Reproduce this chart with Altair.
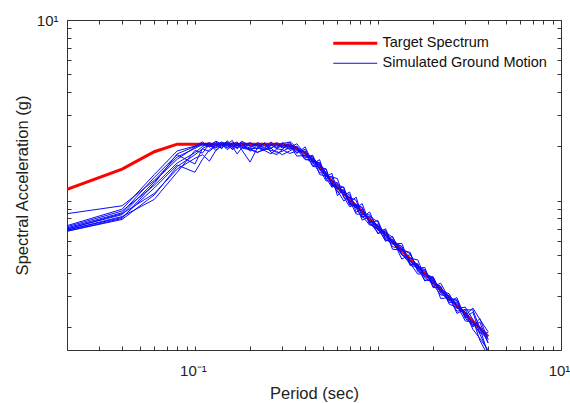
import altair as alt
import pandas as pd

# ---------------- data ----------------
SERIES = ["Target Spectrum", "Simulated Ground Motion"]

TARGET_PERIODS = [0.02, 0.04, 0.06, 0.08, 0.28, 0.30, 0.33, 0.36, 0.40, 0.44, 0.48, 0.52,
                  0.56, 0.60, 0.70, 0.80, 0.90, 1.0, 1.2, 1.5, 2.0, 2.5, 3.0, 3.5, 4.0]
TARGET_SA = [1.16, 1.50, 1.87, 2.06, 2.06, 2.05, 2.02, 1.96, 1.84, 1.69, 1.54, 1.40,
             1.29, 1.19, 1.02, 0.89, 0.79, 0.715, 0.595, 0.477, 0.357, 0.285, 0.238, 0.204, 0.178]

PERIODS = [0.02, 0.04, 0.06, 0.08, 0.10, 0.11, 0.12, 0.13, 0.14, 0.15, 0.16, 0.17,
           0.18, 0.20, 0.22, 0.24, 0.26, 0.28, 0.30, 0.33, 0.36, 0.40, 0.44, 0.48,
           0.52, 0.56, 0.60, 0.65, 0.70, 0.76, 0.82, 0.90, 1.0, 1.1, 1.2, 1.35,
           1.5, 1.65, 1.8, 2.0, 2.2, 2.45, 2.7, 3.0, 3.3, 3.6, 4.0]

SIM_1 = [0.85, 0.94, 1.30, 1.75, 1.95, 2.05, 2.10, 2.02, 2.12, 2.05, 1.98, 2.08,
         2.02, 2.10, 2.00, 2.08, 1.96, 2.04, 1.99, 1.93, 2.01, 1.73, 1.79, 1.48,
         1.51, 1.20, 1.25, 1.07, 1.12, 0.865, 0.905, 0.758, 0.779, 0.618, 0.613, 0.477,
         0.506, 0.424, 0.429, 0.332, 0.332, 0.280, 0.292, 0.226, 0.243, 0.186, 0.187]
SIM_2 = [0.73, 0.90, 1.40, 1.89, 2.01, 2.12, 1.98, 2.08, 1.94, 2.15, 2.04, 1.96,
         2.10, 1.88, 2.06, 1.95, 2.12, 1.98, 2.08, 2.11, 1.83, 1.99, 1.61, 1.69,
         1.32, 1.37, 1.07, 1.155, 0.98, 1.05, 0.818, 0.814, 0.658, 0.702, 0.577, 0.583,
         0.444, 0.450, 0.361, 0.382, 0.312, 0.298, 0.239, 0.252, 0.202, 0.214, 0.164]
SIM_3 = [0.72, 0.88, 1.22, 1.62, 1.85, 2.00, 2.08, 1.90, 2.02, 2.10, 1.92, 2.00,
         2.14, 2.02, 1.94, 2.10, 1.86, 1.80, 1.92, 1.83, 1.89, 1.88, 1.55, 1.54,
         1.50, 1.225, 1.18, 1.19, 0.96, 0.92, 0.966, 0.75, 0.694, 0.689, 0.541, 0.535,
         0.52, 0.407, 0.393, 0.375, 0.289, 0.292, 0.281, 0.231, 0.202, 0.224, 0.171]
SIM_4 = [0.71, 0.86, 1.35, 1.80, 1.60, 1.95, 2.04, 2.12, 1.98, 2.06, 2.16, 1.94,
         2.04, 1.96, 2.10, 2.02, 1.94, 2.06, 1.96, 2.03, 1.77, 1.78, 1.76, 1.40,
         1.37, 1.355, 1.33, 1.045, 1.01, 0.846, 0.844, 0.837, 0.715, 0.598, 0.637, 0.509,
         0.448, 0.446, 0.377, 0.35, 0.338, 0.269, 0.257, 0.243, 0.195, 0.174, 0.150]
SIM_5 = [0.70, 0.85, 1.10, 1.50, 1.72, 1.80, 1.66, 1.90, 2.04, 1.96, 2.06, 2.12,
         1.98, 1.94, 1.86, 1.92, 1.96, 1.84, 1.88, 1.97, 2.07, 1.82, 1.57, 1.60,
         1.34, 1.19, 1.225, 1.19, 0.97, 0.95, 0.783, 0.822, 0.765, 0.611, 0.583, 0.562,
         0.439, 0.433, 0.417, 0.336, 0.351, 0.289, 0.246, 0.250, 0.250, 0.198, 0.142]
SIM_6 = [0.70, 0.84, 1.28, 1.70, 1.98, 2.06, 2.00, 2.14, 2.06, 1.92, 2.02, 2.08,
         1.92, 1.64, 1.98, 1.92, 2.02, 2.10, 2.00, 2.07, 1.93, 1.69, 1.69, 1.62,
         1.36, 1.42, 1.14, 1.00, 1.05, 1.006, 0.827, 0.735, 0.744, 0.65, 0.559, 0.541,
         0.510, 0.420, 0.365, 0.361, 0.335, 0.274, 0.276, 0.233, 0.256, 0.222, 0.189]
SIM_7 = [0.69, 0.82, 1.02, 1.44, 1.90, 1.84, 2.06, 1.98, 2.10, 2.02, 1.94, 2.04,
         2.10, 2.00, 2.04, 1.90, 2.04, 1.96, 2.10, 1.99, 1.85, 1.93, 1.64, 1.43,
         1.43, 1.265, 1.12, 1.12, 1.08, 0.912, 0.809, 0.869, 0.686, 0.676, 0.589, 0.504,
         0.482, 0.472, 0.381, 0.371, 0.319, 0.307, 0.254, 0.259, 0.221, 0.170, 0.139]
SIM_8 = [0.69, 0.81, 1.18, 1.58, 1.44, 1.70, 1.92, 2.04, 1.96, 2.08, 2.00, 1.82,
         1.96, 1.92, 1.85, 1.95, 1.90, 1.88, 1.80, 1.89, 1.99, 1.77, 1.72, 1.51,
         1.29, 1.29, 1.26, 1.056, 0.928, 0.959, 0.922, 0.743, 0.701, 0.605, 0.607, 0.557,
         0.453, 0.394, 0.397, 0.378, 0.309, 0.283, 0.284, 0.224, 0.208, 0.202, 0.164]
SIM_9 = [0.68, 0.80, 1.25, 1.82, 2.00, 2.08, 2.02, 1.96, 2.06, 2.12, 1.98, 2.04,
         1.96, 2.08, 2.02, 1.98, 2.06, 1.94, 2.04, 1.95, 1.91, 1.86, 1.66, 1.59,
         1.40, 1.24, 1.17, 1.11, 1.05, 0.931, 0.879, 0.774, 0.729, 0.644, 0.595, 0.546,
         0.463, 0.437, 0.393, 0.364, 0.319, 0.295, 0.262, 0.243, 0.210, 0.188, 0.174]
SIM_10 = [0.68, 0.79, 1.08, 1.55, 1.80, 1.94, 1.88, 2.02, 2.08, 1.98, 2.10, 2.02,
          2.00, 1.94, 1.96, 1.90, 1.82, 1.94, 1.92, 2.13, 1.97, 1.71, 1.64, 1.63,
          1.43, 1.21, 1.19, 1.144, 0.949, 0.949, 0.914, 0.766, 0.665, 0.67, 0.631, 0.504,
          0.467, 0.416, 0.413, 0.346, 0.302, 0.301, 0.265, 0.217, 0.215, 0.184, 0.146]
SIMS = [SIM_1, SIM_2, SIM_3, SIM_4, SIM_5, SIM_6, SIM_7, SIM_8, SIM_9, SIM_10]

X_TICKS = [0.02, 0.03, 0.04, 0.05, 0.06, 0.07, 0.08, 0.09, 0.1,
           0.2, 0.3, 0.4, 0.5, 0.6, 0.7, 0.8, 0.9, 1,
           2, 3, 4, 5, 6, 7, 8, 9, 10]
Y_TICKS = [0.2, 0.3, 0.4, 0.5, 0.6, 0.7, 0.8, 0.9, 1,
           2, 3, 4, 5, 6, 7, 8, 9, 10]

# ---------------- tables ----------------
target_df = pd.DataFrame({"period": TARGET_PERIODS, "sa": TARGET_SA,
                          "series": SERIES[0], "run": "target"})
sim_rows = []
for k, vals in enumerate(SIMS):
    for p, v in zip(PERIODS, vals):
        sim_rows.append({"period": p, "sa": v, "series": SERIES[1], "run": f"sim{k + 1}"})
sim_df = pd.DataFrame(sim_rows)

FONT = "Liberation Sans"
TICK = "#333333"
TXT = "#222222"

x_scale = alt.Scale(type="log", domain=[0.02, 10], nice=False)
y_scale = alt.Scale(type="log", domain=[0.15, 10], nice=False)

leg = alt.Legend(title=None, orient="none", legendX=281, legendY=16,
                 symbolType="M-4,0H4", symbolSize=121, labelFont=FONT,
                 labelFontSize=14.5, labelColor="#111111", labelOffset=20,
                 labelLimit=400, rowPadding=5, padding=0)

color = alt.Color("series:N", scale=alt.Scale(domain=SERIES, range=["#ff0000", "#0a0aff"]),
                  legend=leg)
swidth = alt.StrokeWidth("series:N", scale=alt.Scale(type="ordinal", domain=SERIES, range=[3, 1]),
                         legend=leg)

x_bottom = alt.Axis(orient="bottom", values=X_TICKS,
                    labelExpr="datum.value == 0.1 ? '10⁻¹' : (datum.value == 10 ? '10¹' : '')",
                    domain=False, grid=False, tickSize=4, offset=-4, tickColor=TICK,
                    labelFont=FONT, labelFontSize=15, labelColor=TXT,
                    labelPadding=13, labelOffset=-2, labelOverlap=False, labelFlush=False,
                    title="Period (sec)", titleFont=FONT, titleFontSize=16.5,
                    titleFontWeight="normal", titleColor=TXT, titlePadding=7)
y_left = alt.Axis(orient="left", values=Y_TICKS,
                  labelExpr="datum.value == 10 ? '10¹' : ''",
                  domain=False, grid=False, tickSize=4, offset=-4, tickColor=TICK,
                  labelFont=FONT, labelFontSize=15, labelColor=TXT,
                  labelPadding=9, labelOverlap=False, labelFlush=False,
                  title="Spectral Acceleration (g)", titleFont=FONT, titleFontSize=16.5,
                  titleFontWeight="normal", titleColor=TXT, titlePadding=6)
x_top = alt.Axis(orient="top", values=X_TICKS, labels=False, domain=False, grid=False,
                 tickSize=4, offset=-4, tickColor=TICK, title=None)
y_right = alt.Axis(orient="right", values=Y_TICKS, labels=False, domain=False, grid=False,
                   tickSize=4, offset=-4, tickColor=TICK, title=None)

target_layer = alt.Chart(target_df).mark_line(clip=True).encode(
    x=alt.X("period:Q", scale=x_scale, axis=x_bottom),
    y=alt.Y("sa:Q", scale=y_scale, axis=y_left),
    color=color,
    strokeWidth=swidth,
)

sim_layer = alt.Chart(sim_df).mark_line(clip=True).encode(
    x=alt.X("period:Q", scale=x_scale, axis=x_top),
    y=alt.Y("sa:Q", scale=y_scale, axis=y_right),
    color=color,
    strokeWidth=swidth,
    detail="run:N",
)

chart = alt.layer(target_layer, sim_layer).resolve_axis(
    x="independent", y="independent"
).properties(
    width=494, height=330,
    autosize=alt.AutoSizeParams(type="none"),
    padding={"left": 67, "top": 20, "right": 9, "bottom": 53},
    background="white",
).configure_view(
    stroke="#333333", strokeWidth=1
)

chart.save("out.html", embed_options={"renderer": "svg", "actions": False})
